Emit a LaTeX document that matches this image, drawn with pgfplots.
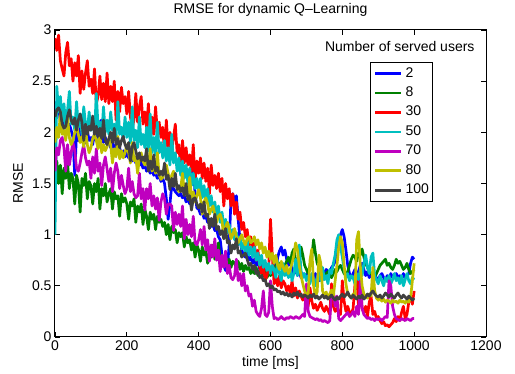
\documentclass[border=0pt]{standalone}
\usepackage{fontspec}
\setmainfont{Liberation Sans}
\usepackage{pgfplots}
\usepackage{pgfplotstable}
\pgfplotsset{compat=1.18}
\definecolor{mb}{rgb}{0,0,1}
\definecolor{mg}{rgb}{0,0.5,0}
\definecolor{mr}{rgb}{1,0,0}
\definecolor{mc}{rgb}{0,0.75,0.75}
\definecolor{mm}{rgb}{0.75,0,0.75}
\definecolor{my}{rgb}{0.75,0.75,0}
\definecolor{mk}{rgb}{0.25,0.25,0.25}
\pgfplotstableread{
t b g r c m y k
0 2.20 1.62 2.92 1.00 1.62 1.90 2.15
5 2.30 1.72 2.80 2.45 1.85 2.05 2.22
10 2.25 1.50 2.95 2.20 1.78 1.95 2.24
15 2.10 1.68 2.70 2.35 1.92 2.20 2.20
20 2.15 1.40 2.62 2.10 1.95 1.98 2.08
25 2.05 1.65 2.55 2.28 1.85 2.02 2.04
30 2.12 1.55 2.78 2.05 1.62 1.92 2.06
35 2.00 1.70 2.88 2.22 1.88 2.15 2.16
40 2.08 1.45 2.65 2.40 1.68 1.95 2.22
45 2.02 1.60 2.72 2.08 1.80 1.88 2.12
50 1.95 1.55 2.50 2.15 1.90 1.92 2.08
55 1.58 1.30 2.68 2.02 1.82 2.00 2.14
60 2.00 1.58 2.55 2.30 1.65 2.06 2.02
65 1.92 1.50 2.75 2.05 1.62 1.98 2.12
70 2.05 1.22 2.38 2.18 1.70 1.90 2.18
75 1.95 1.55 2.60 1.98 1.80 1.96 2.10
80 1.98 1.48 2.42 2.25 1.88 1.86 1.92
85 1.90 1.60 2.58 2.08 1.75 2.05 2.08
90 2.02 1.35 2.70 2.00 1.68 1.88 1.98
95 1.92 1.52 2.45 2.20 1.72 1.80 2.06
100 1.95 1.48 2.52 2.02 1.55 1.85 2.02
105 1.88 1.30 2.38 2.15 1.76 1.94 2.16
110 2.00 1.50 2.62 1.98 1.60 1.98 1.98
115 1.92 1.42 2.28 2.38 1.84 1.92 2.06
120 1.98 1.55 2.35 2.05 1.62 1.84 1.96
125 2.10 1.25 2.55 2.10 1.70 2.02 2.04
130 2.12 1.45 2.32 1.95 1.48 1.80 1.94
135 1.90 1.38 2.48 2.25 1.68 1.88 2.12
140 1.95 1.50 2.30 2.00 1.76 1.82 1.92
145 1.88 1.32 2.58 2.12 1.64 1.86 1.88
150 1.90 1.40 2.28 1.98 1.52 1.94 1.94
155 1.85 1.45 2.45 2.20 1.65 1.88 2.00
160 1.92 1.25 2.30 2.02 1.42 1.70 1.90
165 1.82 1.42 2.50 2.08 1.60 1.84 2.04
170 1.88 1.35 2.12 1.95 1.70 1.76 1.88
175 1.80 1.38 2.40 2.30 1.62 1.96 1.94
180 1.85 1.18 2.20 1.98 1.45 1.74 1.85
185 1.78 1.40 2.44 2.05 1.58 1.82 1.92
190 1.82 1.32 2.28 1.92 1.48 1.75 1.96
195 1.76 1.36 2.35 2.15 1.40 1.80 1.88
200 1.80 1.30 2.18 1.95 1.45 1.88 1.84
205 1.75 1.15 2.40 2.10 1.65 1.80 1.90
210 1.78 1.32 2.15 1.90 1.42 1.70 1.72
215 1.72 1.28 2.05 2.25 1.52 1.90 1.86
220 1.76 1.35 2.12 1.92 1.40 1.72 1.90
225 1.70 1.12 2.38 2.02 1.36 1.76 1.82
230 1.74 1.28 2.10 1.85 1.38 1.60 1.74
235 1.68 1.22 2.25 2.15 1.60 1.75 1.80
240 1.70 1.30 2.35 1.88 1.35 1.80 1.72
245 1.65 1.10 2.08 1.98 1.45 1.72 1.76
250 1.68 1.25 2.20 1.85 1.24 1.68 1.72
255 1.62 1.18 2.05 2.05 1.45 1.75 1.84
260 1.66 1.05 2.28 1.82 1.35 1.65 1.62
265 1.60 1.22 1.92 2.18 1.50 1.84 1.72
270 1.64 1.15 2.15 1.80 1.28 1.62 1.64
275 1.58 1.20 1.98 1.95 1.38 1.70 1.78
280 1.60 1.05 2.25 1.78 1.25 1.60 1.62
285 1.55 1.18 2.00 2.10 1.36 1.80 1.66
290 1.58 1.12 2.10 1.80 1.14 1.58 1.58
295 1.52 1.15 1.95 1.90 1.32 1.54 1.62
300 1.55 1.08 2.05 1.75 1.40 1.56 1.58
305 1.50 1.12 1.80 1.92 1.35 1.64 1.70
310 1.35 1.00 2.12 1.72 1.20 1.68 1.54
315 1.15 1.10 1.85 1.85 1.30 1.60 1.58
320 1.30 0.95 2.00 1.68 1.30 1.50 1.44
325 1.48 1.08 1.82 1.98 1.28 1.58 1.55
330 1.45 1.02 1.95 1.70 1.04 1.62 1.47
335 1.42 1.05 2.08 1.80 1.22 1.55 1.60
340 1.40 0.92 1.80 1.62 1.10 1.46 1.44
345 1.38 1.02 1.88 1.75 1.20 1.42 1.48
350 1.40 0.98 1.62 1.58 1.08 1.45 1.42
355 1.36 1.02 1.92 1.72 1.28 1.60 1.46
360 1.38 0.88 1.70 1.55 0.96 1.42 1.38
365 1.32 0.98 1.85 1.68 1.15 1.48 1.50
370 1.35 0.92 1.68 1.50 1.00 1.38 1.34
375 1.30 0.95 1.78 1.65 1.10 1.56 1.38
380 1.62 0.85 1.62 1.48 0.98 1.36 1.24
385 1.70 0.92 1.88 1.60 1.18 1.42 1.35
390 1.40 0.78 1.52 1.45 0.92 1.32 1.36
395 1.26 0.90 1.72 1.55 0.90 1.38 1.30
400 1.25 0.85 1.60 1.40 0.95 1.44 1.26
405 1.20 0.74 1.75 1.55 1.05 1.36 1.30
410 1.22 0.88 1.55 1.36 0.90 1.20 1.22
415 1.16 0.80 1.70 1.48 1.08 1.32 1.32
420 1.18 0.84 1.52 1.32 0.85 1.36 1.18
425 1.12 0.72 1.65 1.45 0.95 1.30 1.20
430 1.14 0.82 1.40 1.28 0.74 1.20 1.06
435 1.08 0.78 1.68 1.38 0.90 1.25 1.16
440 1.10 0.90 1.48 1.22 0.78 1.28 1.08
445 1.04 0.76 1.58 1.32 0.96 1.20 1.20
450 1.05 0.82 1.45 1.18 0.75 1.12 1.05
455 0.98 0.92 1.60 1.28 0.85 1.18 1.08
460 0.95 0.75 1.42 1.12 0.64 1.20 1.00
465 0.80 0.80 1.55 1.22 0.80 1.14 1.04
470 0.70 0.70 1.28 1.08 0.68 0.96 0.96
475 0.65 0.78 1.50 1.15 0.84 1.08 1.06
480 0.68 0.72 1.35 1.02 0.62 1.12 0.92
485 0.90 0.76 1.45 1.10 0.70 1.05 0.94
490 1.35 0.68 1.28 0.98 0.58 0.96 0.82
495 1.40 0.74 1.40 1.05 0.56 1.00 0.90
500 1.32 0.72 1.20 0.95 0.60 1.06 0.86
505 1.38 0.68 1.32 1.02 0.76 0.98 0.96
510 1.15 0.74 1.15 0.90 0.55 0.92 0.82
515 0.95 0.66 1.22 0.98 0.62 0.96 0.84
520 0.85 0.72 1.05 0.86 0.50 1.00 0.78
525 0.80 0.64 1.12 0.92 0.62 0.94 0.80
530 0.78 0.70 0.98 0.82 0.45 0.90 0.82
535 0.82 0.66 1.05 0.95 0.50 0.96 0.76
540 0.75 0.68 0.90 0.80 0.40 0.98 0.70
545 0.78 0.62 0.98 0.88 0.42 0.92 0.72
550 0.72 0.66 0.82 0.78 0.30 0.94 0.66
555 0.76 0.62 0.92 0.88 0.36 0.98 0.70
560 0.70 0.68 0.75 0.75 0.25 0.90 0.62
565 0.74 0.60 0.85 0.82 0.22 0.95 0.64
570 0.66 0.65 0.68 0.70 0.20 0.86 0.58
575 0.70 0.62 0.62 0.80 0.28 0.92 0.60
580 0.62 0.60 0.72 0.68 0.45 0.82 0.55
585 0.68 0.64 0.55 0.75 0.22 0.88 0.56
590 0.60 0.58 0.60 0.65 0.20 0.78 0.50
595 0.66 0.62 0.68 0.72 0.24 0.84 0.52
600 0.62 0.60 1.15 0.62 0.55 0.76 0.48
605 0.68 0.64 0.80 0.70 0.30 0.82 0.50
610 0.72 0.62 0.52 0.66 0.18 0.72 0.46
615 0.65 0.70 0.58 0.58 0.19 0.80 0.47
620 0.78 0.66 0.50 0.74 0.17 0.70 0.44
625 0.84 0.72 0.60 0.62 0.18 0.66 0.45
630 0.88 0.68 0.48 0.55 0.20 0.74 0.42
635 0.80 0.64 0.55 0.72 0.18 0.68 0.44
640 0.85 0.70 0.52 0.60 0.17 0.64 0.41
645 0.76 0.74 0.45 0.64 0.19 0.70 0.43
650 0.70 0.78 0.50 0.58 0.18 0.62 0.40
655 0.74 0.72 0.42 0.66 0.20 0.66 0.42
660 0.66 0.82 0.55 0.55 0.19 0.72 0.39
665 0.62 0.86 0.40 0.62 0.18 0.80 0.43
670 0.68 0.75 0.48 0.76 0.20 0.92 0.41
675 0.60 0.68 0.38 0.60 0.19 0.85 0.44
680 0.64 0.72 0.45 0.90 0.18 0.70 0.40
685 0.58 0.88 0.40 0.65 0.20 0.60 0.42
690 0.62 0.80 0.36 0.58 0.22 0.52 0.39
695 0.60 0.70 0.42 0.62 0.20 0.45 0.41
700 0.58 0.66 0.38 0.55 0.52 0.40 0.40
705 0.64 0.62 0.30 0.60 0.25 0.42 0.38
710 0.56 0.70 0.48 0.52 0.20 0.75 0.41
715 0.60 0.78 0.35 0.62 0.19 0.86 0.39
720 0.54 0.95 0.28 0.56 0.18 0.50 0.42
725 0.62 0.82 0.32 0.50 0.17 0.40 0.38
730 0.58 0.72 0.26 0.58 0.18 0.44 0.40
735 0.55 0.68 0.30 0.64 0.16 0.80 0.37
740 0.60 0.66 0.34 0.55 0.17 0.72 0.39
745 0.56 0.62 0.28 0.68 0.15 0.45 0.41
750 0.62 0.60 0.25 0.56 0.16 0.40 0.38
755 0.66 0.62 0.30 0.60 0.15 0.44 0.40
760 0.64 0.64 0.26 0.52 0.14 0.38 0.37
765 0.60 0.60 0.22 0.66 0.16 0.42 0.39
770 0.68 0.58 0.52 0.62 0.42 0.46 0.41
775 0.70 0.62 0.30 0.72 0.45 0.40 0.38
780 0.74 0.66 0.25 0.80 0.30 0.55 0.36
785 0.82 0.64 0.28 0.95 0.40 0.70 0.39
790 0.92 0.68 0.24 1.00 0.18 0.88 0.37
795 1.00 0.70 0.22 0.88 0.16 0.98 0.40
800 1.05 0.66 0.55 0.78 0.18 0.92 0.42
805 0.98 0.62 0.35 0.66 0.20 0.70 0.39
810 0.85 0.60 0.25 0.58 0.22 0.52 0.41
815 0.70 0.64 0.30 0.62 0.24 0.42 0.44
820 0.62 0.70 0.24 0.55 0.20 0.40 0.40
825 0.58 0.76 0.22 0.60 0.22 0.38 0.38
830 0.62 0.80 0.28 0.58 0.25 0.42 0.41
835 0.66 0.78 0.50 0.52 0.20 0.40 0.39
840 0.60 0.74 0.62 0.62 0.30 0.95 0.37
845 0.64 0.82 0.30 0.56 0.22 1.03 0.40
850 0.70 0.80 0.58 0.66 0.55 0.70 0.38
855 0.72 0.86 0.28 0.60 0.28 0.50 0.41
860 0.66 0.78 0.24 0.72 0.22 0.42 0.37
865 0.60 0.72 0.30 0.80 0.20 0.40 0.39
870 0.64 0.68 0.20 0.68 0.18 0.38 0.42
875 0.58 0.64 0.34 0.62 0.19 0.42 0.40
880 0.62 0.62 0.40 0.78 0.17 0.40 0.43
885 0.56 0.60 0.22 0.82 0.18 0.68 0.45
890 0.60 0.58 0.25 0.60 0.16 0.45 0.42
895 0.58 0.62 0.18 0.56 0.18 0.38 0.40
900 0.56 0.66 0.20 0.52 0.17 0.36 0.39
905 0.60 0.70 0.16 0.60 0.18 0.38 0.41
910 0.62 0.72 0.13 0.55 0.16 0.35 0.38
915 0.58 0.74 0.15 0.50 0.18 0.37 0.40
920 0.55 0.76 0.11 0.58 0.20 0.34 0.43
925 0.60 0.70 0.12 0.54 0.19 0.36 0.41
930 0.56 0.72 0.10 0.60 0.55 0.35 0.39
935 0.62 0.68 0.12 0.52 0.50 0.33 0.42
940 0.58 0.66 0.14 0.56 0.30 0.36 0.40
945 0.60 0.70 0.18 0.62 0.22 0.34 0.38
950 0.62 0.76 0.15 0.55 0.18 0.35 0.41
955 0.58 0.72 0.20 0.58 0.17 0.33 0.43
960 0.60 0.74 0.16 0.52 0.16 0.36 0.40
965 0.56 0.70 0.24 0.60 0.18 0.34 0.38
970 0.62 0.66 0.30 0.50 0.17 0.35 0.41
975 0.58 0.68 0.18 0.56 0.16 0.33 0.39
980 0.60 0.72 0.22 0.62 0.18 0.36 0.37
985 0.62 0.66 0.34 0.55 0.17 0.34 0.40
990 0.72 0.62 0.40 0.52 0.16 0.38 0.38
995 0.78 0.64 0.32 0.58 0.18 0.55 0.36
1000 0.76 0.66 0.45 0.56 0.18 0.72 0.38
}\datatable
\newcommand{\fs}{\fontsize{14}{16}\selectfont}
\begin{document}
\begin{tikzpicture}
\begin{axis}[
  name=ax,
  scale only axis,
  width=431pt, height=307pt,
  xmin=0, xmax=1200, ymin=0, ymax=3,
  xtick={0,200,...,1200},
  ytick={0,0.5,1,1.5,2,2.5,3},
  tick align=inside,
  xtick pos=both, ytick pos=both,
  major tick length=5pt,
  axis line style={line width=1pt},
  every tick/.style={black, line width=0.8pt},
  /pgf/number format/1000 sep={},
  /pgf/number format/assume math mode=true,
  tick label style={font=\fs},
  title={RMSE for dynamic Q\textendash Learning},
  title style={font=\fs, at={(axis description cs:0.5,1.033)}, anchor=base, inner sep=0pt},
  xlabel={time [ms]},
  xlabel style={font=\fs, at={(axis description cs:0.5,-0.0977)}, anchor=base, inner sep=0pt},
  ylabel={RMSE},
  ylabel style={font=\fs, at={(axis description cs:-0.0858,0.5)}, anchor=center, inner sep=0pt},
  legend cell align=left,
  legend image code/.code={\draw[#1] (0pt,0pt) -- (25.7pt,0pt);},
  legend style={at={(axis cs:877,2.684)}, anchor=north west, font=\fs,
    draw=black, line width=0.8pt, inner xsep=3.5pt, inner ysep=4.3pt,
    row sep=6.45pt,
    nodes={inner sep=0pt, text height=10pt, text depth=3pt},
    /tikz/every odd column/.append style={column sep=3.3pt}},
  every axis plot/.append style={line width=2.7pt, line join=round},
]
\addplot[mb] table[x=t,y=b]{\datatable};
\addplot[mg] table[x=t,y=g]{\datatable};
\addplot[mr] table[x=t,y=r]{\datatable};
\addplot[mc] table[x=t,y=c]{\datatable};
\addplot[mm] table[x=t,y=m]{\datatable};
\addplot[my] table[x=t,y=y]{\datatable};
\addplot[mk] table[x=t,y=k]{\datatable};
\legend{2,8,30,50,70,80,100}
\node[font=\fs, anchor=base, inner sep=0pt] at (axis cs:960,2.788) {Number of served users};
\end{axis}
\path ([shift={(-55pt,-37pt)}]ax.south west) rectangle ([shift={(29pt,30pt)}]ax.north east);
\end{tikzpicture}
\end{document}
